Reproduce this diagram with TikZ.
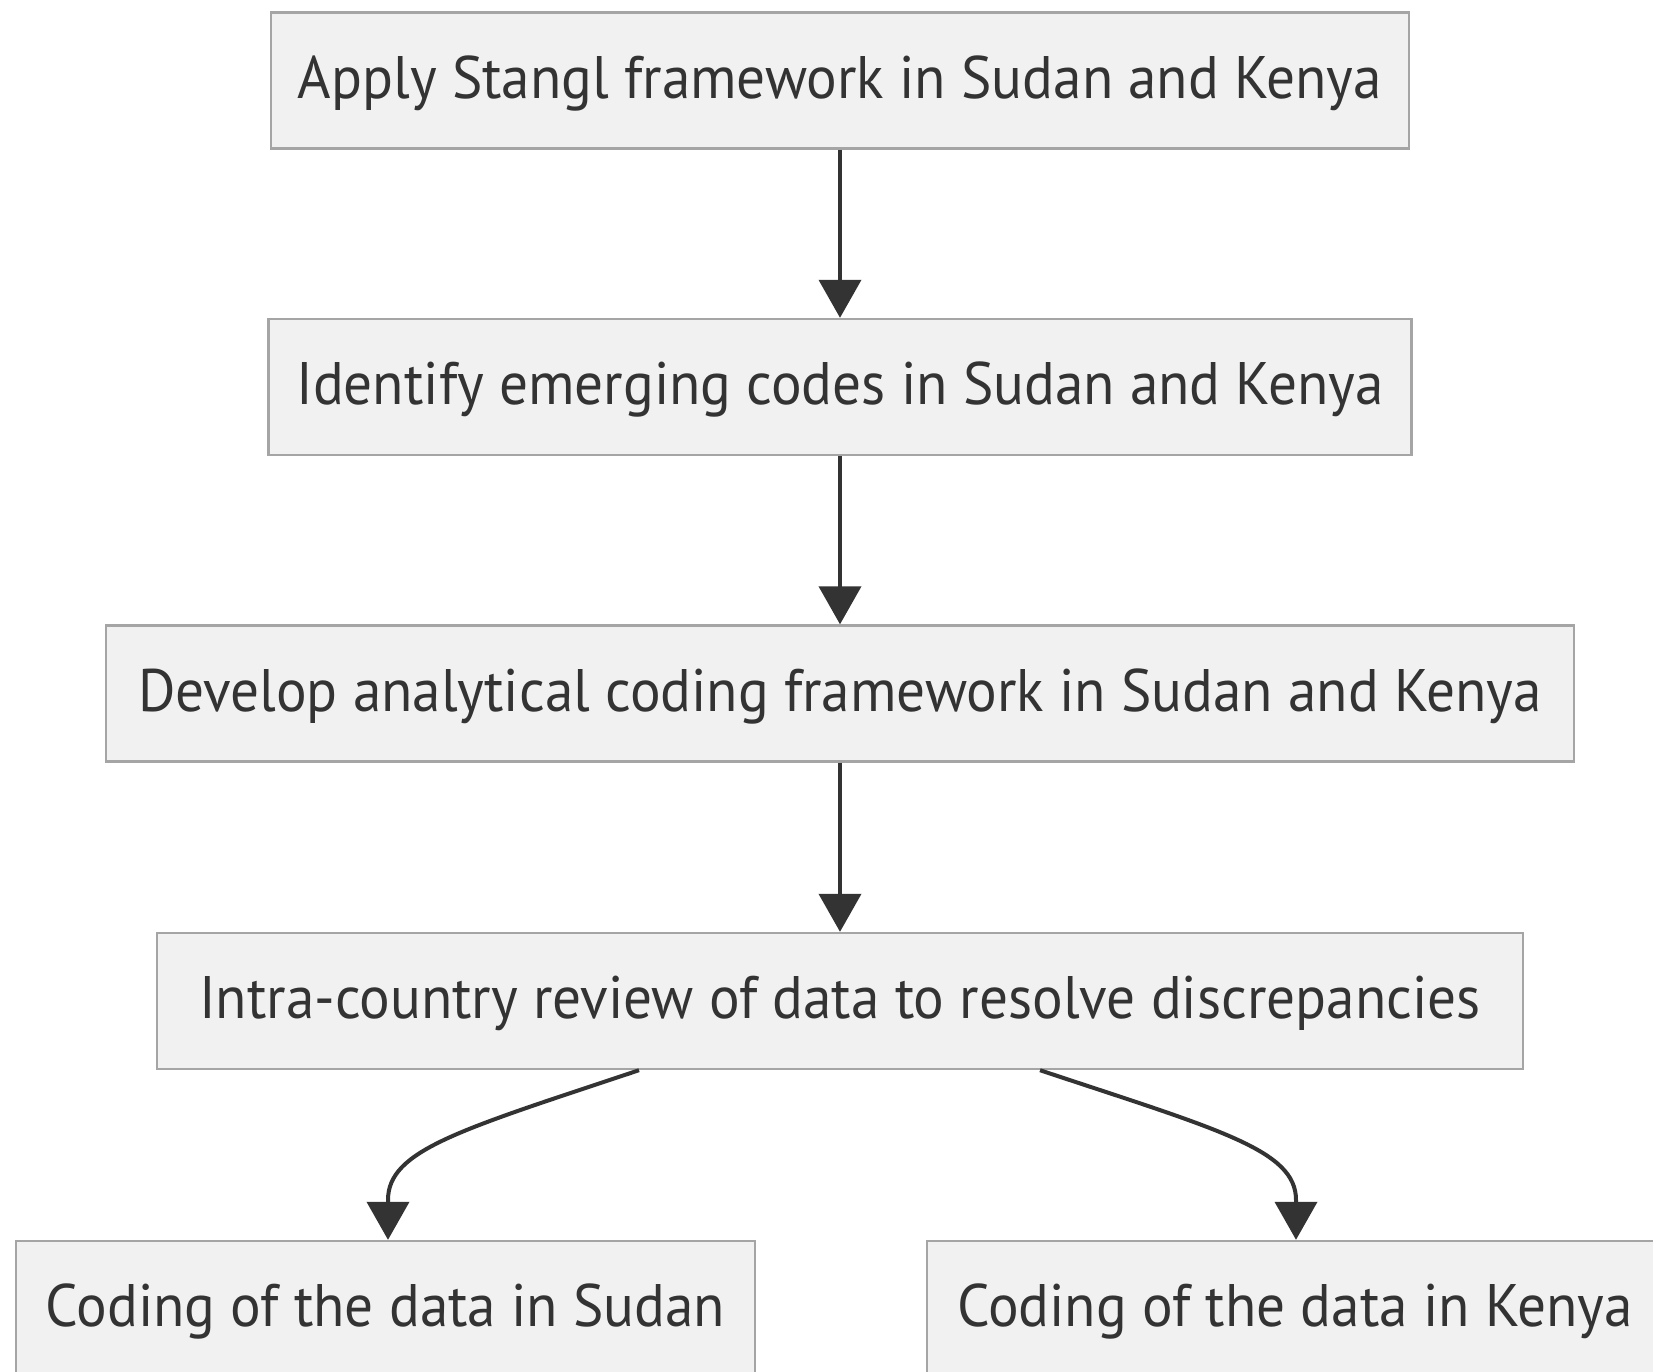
\documentclass[tikz,border=0pt]{standalone}
\usepackage{fontspec}
\setmainfont{PT Sans}[FakeStretch=0.954]
\usetikzlibrary{arrows.meta,calc}
\definecolor{boxfill}{RGB}{241,241,241}
\definecolor{boxline}{RGB}{165,165,165}
\definecolor{ink}{RGB}{51,51,51}
\tikzset{
  flowbox/.style={draw=boxline, fill=boxfill, line width=1.2pt, inner sep=0pt,
    minimum height=68pt, text height=22pt, text depth=4.5pt, text=ink, font=\fontsize{30}{36}\selectfont},
  flowarrow/.style={draw=ink, line width=2pt, -{Triangle[length=19pt,width=21pt]}}
}
\begin{document}
\begin{tikzpicture}[x=0.5pt,y=-0.5pt]
\clip (0,0) rectangle (1653,1371);
\fill[white] (0,0) rectangle (1653,1371);
\node[flowbox, minimum width=569pt] (b1) at (840,80.5) {Apply Stangl framework in Sudan and Kenya};
\node[flowbox, minimum width=571.5pt] (b2) at (840,387) {Identify emerging codes in Sudan and Kenya};
\node[flowbox, minimum width=734pt] (b3) at (840,693.5) {Develop analytical coding framework in Sudan and Kenya};
\node[flowbox, minimum width=683pt] (b4) at (840,1001) {Intra-country review of data to resolve discrepancies};
\node[flowbox, minimum width=369.5pt] (b5) at (385.5,1309) {Coding of the data in Sudan};
\node[flowbox, minimum width=368pt] (b6) at (1295,1309) {Coding of the data in Kenya};
\draw[flowarrow] (b1.south) -- (b2.north);
\draw[flowarrow] (b2.south) -- (b3.north);
\draw[flowarrow] (b3.south) -- (b4.north);
\draw[flowarrow] ($(b4.south)+(-201,0)$) .. controls (460,1130) and (388,1150) .. (388,1200) -- ($(b5.north)+(2.5,0)$);
\draw[flowarrow] ($(b4.south)+(200,0)$) .. controls (1220,1130) and (1296,1150) .. (1296,1200) -- ($(b6.north)+(1,0)$);
\end{tikzpicture}
\end{document}
